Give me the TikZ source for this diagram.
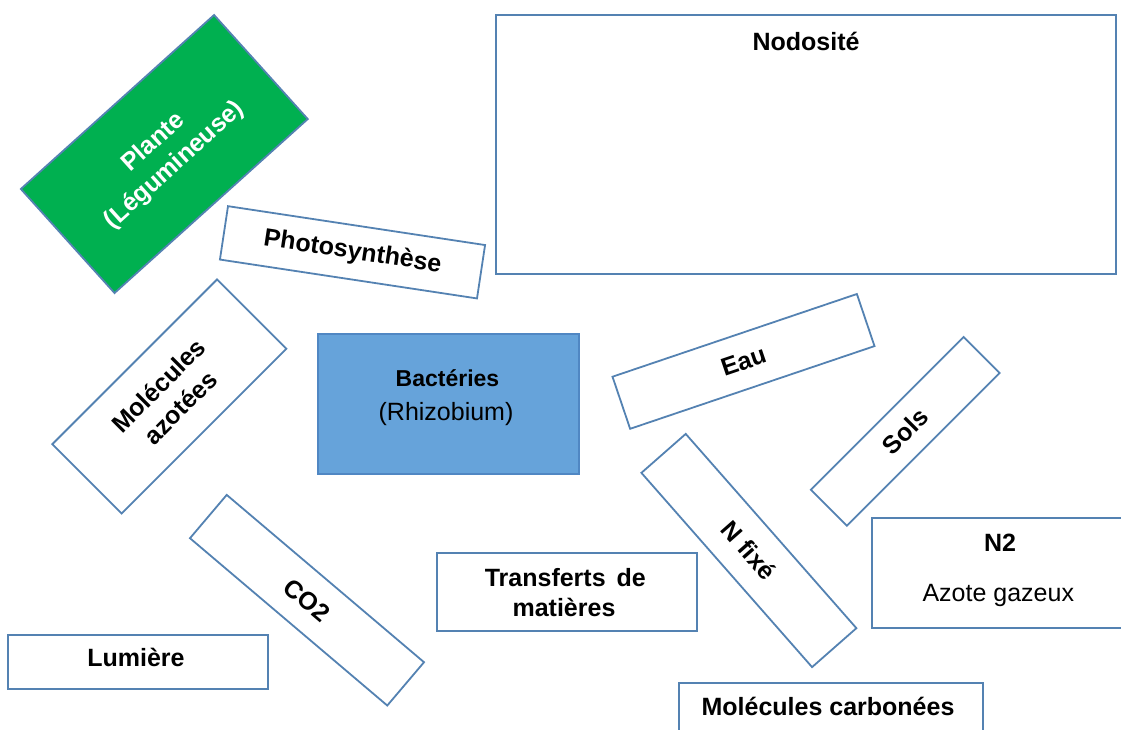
\documentclass[tikz,border=0pt]{standalone}
\usepackage{fontspec}
\setmainfont{Liberation Sans}
\definecolor{bordercol}{RGB}{84,130,178}
\definecolor{plantgreen}{RGB}{0,176,80}
\definecolor{bactblue}{RGB}{102,163,218}
\definecolor{bactborder}{RGB}{80,135,195}
\begin{document}
\begin{tikzpicture}[x=1pt,y=-1pt,
  box/.style={draw=bordercol, line width=1.8pt, fill=white, inner sep=0pt, outer sep=0pt},
  bold/.style={font=\bfseries\fontsize{25}{31}\selectfont, align=center},
  reg/.style={font=\fontsize{25}{31}\selectfont},
  txt/.style={inner sep=0pt, anchor=base}]
\useasboundingbox (0,0) rectangle (1121,729);
\clip (0,0) rectangle (1121,729);

% Plante
\node[box, fill=plantgreen, rotate=42, minimum width=260pt, minimum height=140pt, text=white, bold] (plante) at (164.3,154) {Plante\\(Légumineuse)};
% Photosynthese
\node[box, rotate=-8.6, minimum width=260pt, minimum height=54pt, bold] (photo) at (352.5,252.3) {Photosynthèse};
% Molecules azotees
\node[box, rotate=45, minimum width=233pt, minimum height=98pt, bold] (azot) at (169.3,396.5) {Molécules\\azotées};
% Bacteries
\node[box, draw=bactborder, fill=bactblue, minimum width=261.6pt, minimum height=140pt] (bact) at (448.5,404.3) {};
\node[txt, font=\bfseries\fontsize{23}{28}\selectfont] (bactT) at (447.5,386.7) {Bactéries};
\node[txt, reg] (rhiz) at (446,420) {(Rhizobium)};
% Nodosite
\node[box, minimum width=620pt, minimum height=259pt] (nodo) at (806,144.5) {};
\node[txt, bold] (nodoT) at (806,50) {Nodosité};
% Eau
\node[box, rotate=18.7, minimum width=258pt, minimum height=55pt, bold] (eau) at (743.5,361.4) {Eau};
% Sols
\node[box, rotate=45, minimum width=216pt, minimum height=51pt, bold] (sols) at (905.2,431.4) {Sols};
% N fixe
\node[box, rotate=-48.7, minimum width=258.6pt, minimum height=59pt, bold] (nfix) at (748.9,550.5) {N fixé};
% N2
\node[box, minimum width=258.3pt, minimum height=110pt] (n2) at (1000.9,573.3) {};
\node[txt, bold] (n2T) at (1000,551) {N2};
\node[txt, reg] (azg) at (998.3,601) {Azote gazeux};
% Molecules carbonees
\node[box, minimum width=304pt, minimum height=76.7pt] (carb) at (831.3,721.7) {};
\node[txt, bold] (carbT) at (828,715) {Molécules carbonées};
% Transferts
\node[box, minimum width=260pt, minimum height=78pt] (transf) at (566.7,591.7) {};
\node[txt, bold] (transfA) at (565.3,586.7) {Transferts\hspace{4pt} de};
\node[txt, bold] (transfB) at (564,616) {matières};
% CO2
\node[box, rotate=-40.3, minimum width=258.7pt, minimum height=56.8pt, bold] (co2) at (307,600.2) {CO2};
% Lumiere
\node[box, minimum width=259.4pt, minimum height=54.3pt] (lum) at (138,662.2) {};
\node[txt, bold] (lumT) at (136,666) {Lumière};
\end{tikzpicture}
\end{document}
